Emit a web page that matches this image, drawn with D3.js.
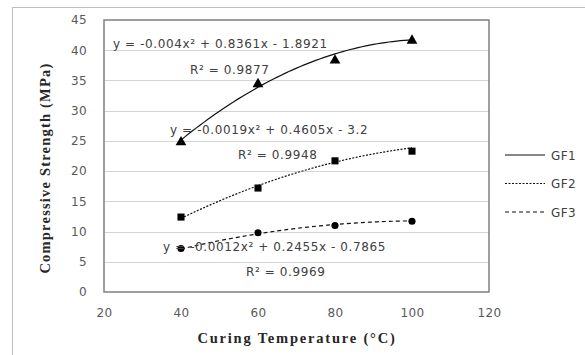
<!DOCTYPE html>
<html>
<head>
<meta charset="utf-8">
<script src="https://cdn.jsdelivr.net/npm/d3@7"></script>
<style>
  body { margin: 0; background: #fff; }
  text { font-family: "DejaVu Sans", Verdana, sans-serif; }
</style>
</head>
<body>
<div id="chart"></div>
<script>
// data
var temps = [40, 60, 80, 100];
var gf1 = [24.8, 34.4, 38.3, 41.6];
var gf2 = [12.4, 17.2, 21.7, 23.3];
var gf3 = [7.2, 9.8, 11.0, 11.7];
var seriesNames = ["GF1", "GF2", "GF3"];
// polynomial trendline coefficients shown on the chart (a, b, c)
var coefGF1 = [-0.004, 0.8361, -1.8921];
var coefGF2 = [-0.0019, 0.4605, -3.2];
var coefGF3 = [-0.0012, 0.2455, -0.7865];
var r2Values = ["0.9877", "0.9948", "0.9969"];
var eqLabels = ["y = -0.004x\u00b2 + 0.8361x - 1.8921",
                "y = -0.0019x\u00b2 + 0.4605x - 3.2",
                "y = -0.0012x\u00b2 + 0.2455x - 0.7865"];
var xTicks = [20, 40, 60, 80, 100, 120];
var yTicks = [0, 5, 10, 15, 20, 25, 30, 35, 40, 45];

var width = 585, height = 355;
var svg = d3.select("#chart").append("svg")
    .attr("width", width)
    .attr("height", height);

// chart area frame
svg.append("rect")
    .attr("x", 12.5).attr("y", 7.5)
    .attr("width", 590).attr("height", 360)
    .attr("fill", "#fff")
    .attr("stroke", "#bfbfbf");

var plot = {left: 104, right: 489, top: 20, bottom: 292};

var x = d3.scaleLinear().domain([20, 120]).range([plot.left, plot.right]);
var y = d3.scaleLinear().domain([0, 45]).range([plot.bottom, plot.top]);

// gridlines
svg.append("g")
    .selectAll("line")
    .data(yTicks.filter(function (d) { return d > 0 && d < 45; }))
    .enter().append("line")
    .attr("x1", plot.left).attr("x2", plot.right)
    .attr("y1", function (d) { return Math.round(y(d)) + 0.5; })
    .attr("y2", function (d) { return Math.round(y(d)) + 0.5; })
    .attr("stroke", "#d4d4d4");

// plot border
svg.append("rect")
    .attr("x", plot.left).attr("y", plot.top)
    .attr("width", plot.right - plot.left)
    .attr("height", plot.bottom - plot.top)
    .attr("fill", "none")
    .attr("stroke", "#7f7f7f")
    .attr("stroke-width", 1.5);

// axes (labels only, Excel style)
var yAxis = svg.append("g")
    .attr("transform", "translate(" + plot.left + ",0)")
    .call(d3.axisLeft(y).tickValues(yTicks).tickSize(0).tickPadding(17));
var xAxis = svg.append("g")
    .attr("transform", "translate(0," + plot.bottom + ")")
    .call(d3.axisBottom(x).tickValues(xTicks).tickSize(0).tickPadding(16));
[xAxis, yAxis].forEach(function (a) {
    a.select(".domain").remove();
    a.selectAll("text")
        .attr("fill", "#595959")
        .style("font-size", "12px")
        .style("letter-spacing", "0.4px")
        .style("font-family", "'DejaVu Sans', Verdana, sans-serif");
});

// axis titles
svg.append("text")
    .attr("x", 297)
    .attr("y", 343)
    .attr("text-anchor", "middle")
    .style("font-family", "'Liberation Serif', 'Times New Roman', serif")
    .style("font-weight", "bold")
    .style("font-size", "14.5px")
    .style("letter-spacing", "1.8px")
    .attr("fill", "#262626")
    .text("Curing Temperature (\u00b0C)");

svg.append("text")
    .attr("transform", "translate(50,168) rotate(-90)")
    .attr("text-anchor", "middle")
    .style("font-family", "'Liberation Serif', 'Times New Roman', serif")
    .style("font-weight", "bold")
    .style("font-size", "14.5px")
    .style("letter-spacing", "1.2px")
    .attr("fill", "#262626")
    .text("Compressive Strength (MPa)");

var series = [
    {name: seriesNames[0], values: gf1, coef: coefGF1, dash: null, marker: d3.symbolTriangle},
    {name: seriesNames[1], values: gf2, coef: coefGF2, dash: "2,1.5", marker: d3.symbolSquare},
    {name: seriesNames[2], values: gf3, coef: coefGF3, dash: "4,3", marker: d3.symbolCircle}
];

var line = d3.line()
    .x(function (d) { return x(d[0]); })
    .y(function (d) { return y(d[1]); })
    .curve(d3.curveLinear);

series.forEach(function (s) {
    // trendline evaluated over the data range
    var pts = d3.range(temps[0], temps[temps.length - 1] + 0.5, 1).map(function (t) {
        return [t, s.coef[0] * t * t + s.coef[1] * t + s.coef[2]];
    });
    svg.append("path")
        .datum(pts)
        .attr("d", line)
        .attr("fill", "none")
        .attr("stroke", "#111")
        .attr("stroke-width", 1.2)
        .attr("stroke-dasharray", s.dash);

    svg.append("g").selectAll("path")
        .data(temps.map(function (t, i) { return [t, s.values[i]]; }))
        .enter().append("path")
        .attr("transform", function (d) { return "translate(" + x(d[0]) + "," + y(d[1]) + ")"; })
        .attr("d", d3.symbol().type(s.marker).size(s.marker === d3.symbolCircle ? 40 : 50))
        .attr("fill", "#000");
});

// equation and R² labels
var eqPos = [[113, 48, 190, 74], [170, 134, 238, 159], [163, 251, 246, 276]];
eqLabels.forEach(function (t, i) {
    svg.append("text")
        .attr("x", eqPos[i][0]).attr("y", eqPos[i][1])
        .attr("fill", "#404040")
        .style("font-size", "12px")
        .style("letter-spacing", "0.6px")
        .text(t);
    svg.append("text")
        .attr("x", eqPos[i][2]).attr("y", eqPos[i][3])
        .attr("fill", "#404040")
        .style("font-size", "12px")
        .style("letter-spacing", "0.6px")
        .text("R\u00b2 = " + r2Values[i]);
});

// legend
var legend = svg.append("g").attr("transform", "translate(505,155)");
series.forEach(function (s, i) {
    var g = legend.append("g").attr("transform", "translate(0," + (i * 28.5) + ")");
    g.append("line")
        .attr("x1", 0).attr("x2", 40)
        .attr("stroke", "#111")
        .attr("stroke-width", 1.2)
        .attr("stroke-dasharray", s.dash);
    g.append("text")
        .attr("x", 46).attr("y", 4.5)
        .attr("fill", "#404040")
        .style("font-size", "12px")
        .style("letter-spacing", "0.4px")
        .text(s.name);
});
</script>
</body>
</html>
